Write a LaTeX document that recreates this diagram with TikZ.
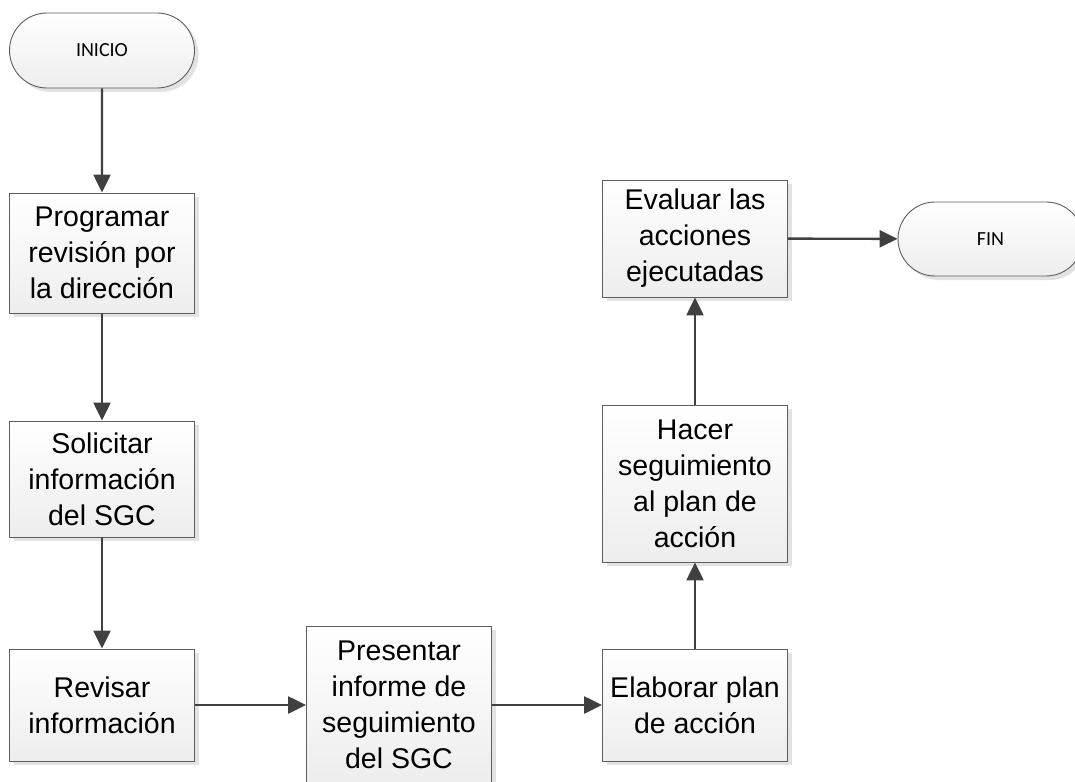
\documentclass[tikz,border=0pt]{standalone}
\usepackage{fontspec}
\setmainfont{Liberation Sans}
\newfontfamily\termfont{Carlito}
\usetikzlibrary{arrows.meta,shapes.misc,shadows}
\definecolor{edgegray}{HTML}{5E5E5E}
\definecolor{arrowgray}{HTML}{404040}
\definecolor{shadowgray}{HTML}{E2E2E2}
\tikzset{
  base/.style={draw=edgegray, line width=0.9pt, top color=white, bottom color=black!7,
    drop shadow={shadow xshift=4pt, shadow yshift=-4pt, fill=shadowgray, opacity=1},
    inner sep=0pt, align=center},
  proc/.style={base, rectangle, minimum width=185pt, font=\fontsize{28.5}{36}\selectfont},
  term/.style={base, rounded rectangle, minimum width=185pt, minimum height=75pt,
    font=\termfont\fontsize{20}{24}\selectfont},
  flow/.style={-{Triangle[length=18pt, width=17pt]}, line width=2.4pt, draw=arrowgray, color=arrowgray},
}
\begin{document}
\begin{tikzpicture}[x=1pt, y=-1pt]
    \useasboundingbox (0,0) rectangle (1075,781);
    \node[term] (start) at (102,50.5) {INICIO};
    \node[proc, minimum height=120pt] (prog) at (102,253) {Programar\\revisión por\\la dirección};
    \node[proc, minimum height=116pt] (soli) at (102,479) {Solicitar\\información\\del SGC};
    \node[proc, minimum height=112pt] (revi) at (102,705) {Revisar\\información};
    \node[proc, minimum height=158pt] (pres) at (399,705) {Presentar\\informe de\\seguimiento\\del SGC};
    \node[proc, minimum height=112pt] (elab) at (695,705) {Elaborar plan\\de acción};
    \node[proc, minimum height=157pt] (hace) at (695,483.5) {Hacer\\seguimiento\\al plan de\\acción};
    \node[proc, minimum height=117pt] (eval) at (695,238.5) {Evaluar las\\acciones\\ejecutadas};
    \node[term, minimum height=74pt] (stop) at (990.5,239) {FIN};
    \draw[flow] (start) -- (prog);
    \draw[flow] (prog) -- (soli);
    \draw[flow] (soli) -- (revi);
    \draw[flow] (revi) -- (pres);
    \draw[flow] (pres) -- (elab);
    \draw[flow] (elab) -- (hace);
    \draw[flow] (hace) -- (eval);
    \draw[flow] (eval) -- (stop);
  \end{tikzpicture}
\end{document}
